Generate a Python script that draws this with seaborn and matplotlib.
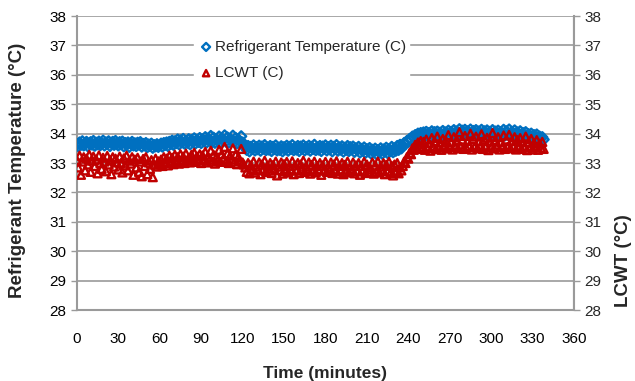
import numpy as np
import pandas as pd
import seaborn as sb
import matplotlib
matplotlib.use("Agg")
import matplotlib.pyplot as plt

# readings taken once a minute, 0..338 min
minutes = list(range(0, 339))

refrigerant_temp = [
    33.65, 33.58, 33.70, 33.62, 33.74, 33.60, 33.68, 33.72, 33.57, 33.66, 33.71, 33.63, 33.75, 33.59, 33.69,
    33.64, 33.73, 33.61, 33.67, 33.76, 33.60, 33.70, 33.65, 33.74, 33.58, 33.68, 33.72, 33.62, 33.75, 33.66,
    33.60, 33.71, 33.64, 33.73, 33.57, 33.68, 33.62, 33.70, 33.55, 33.66, 33.72, 33.60, 33.67, 33.58, 33.69,
    33.63, 33.71, 33.56, 33.65, 33.60, 33.68, 33.54, 33.63, 33.58, 33.66, 33.52, 33.61, 33.57, 33.64, 33.55,
    33.60, 33.66, 33.56, 33.68, 33.62, 33.70, 33.58, 33.72, 33.65, 33.76, 33.62, 33.74, 33.68, 33.80, 33.64,
    33.77, 33.70, 33.82, 33.66, 33.75, 33.69, 33.81, 33.64, 33.78, 33.71, 33.84, 33.67, 33.79, 33.72, 33.85,
    33.68, 33.80, 33.74, 33.88, 33.70, 33.83, 33.76, 33.92, 33.72, 33.86, 33.69, 33.81, 33.75, 33.90, 33.71,
    33.84, 33.78, 33.94, 33.73, 33.87, 33.70, 33.82, 33.76, 33.93, 33.72, 33.85, 33.68, 33.80, 33.74, 33.91,
    33.70, 33.62,
    33.52, 33.45, 33.58, 33.40, 33.55, 33.48, 33.60, 33.43, 33.54, 33.47, 33.59, 33.42, 33.56, 33.49, 33.61,
    33.44, 33.53, 33.46, 33.58, 33.41, 33.55, 33.48, 33.60, 33.43, 33.52, 33.45, 33.57, 33.40, 33.54, 33.47,
    33.59, 33.42, 33.55, 33.48, 33.61, 33.44, 33.53, 33.46, 33.58, 33.41, 33.56, 33.49, 33.60, 33.43, 33.54,
    33.47, 33.59, 33.42, 33.55, 33.48, 33.62, 33.44, 33.53, 33.46, 33.58, 33.41, 33.56, 33.49, 33.60, 33.43,
    33.54, 33.47, 33.59, 33.40, 33.55, 33.48, 33.61, 33.42, 33.53, 33.46, 33.57, 33.39, 33.52, 33.45, 33.58,
    33.41, 33.54, 33.47, 33.56, 33.38, 33.50, 33.44, 33.55, 33.36, 33.48, 33.42, 33.53, 33.35, 33.47, 33.40,
    33.51, 33.33, 33.45, 33.38, 33.49, 33.30, 33.44, 33.36, 33.50, 33.32, 33.46, 33.39, 33.52, 33.34, 33.47,
    33.40, 33.55, 33.37, 33.50, 33.42, 33.58, 33.45, 33.62, 33.50,
    33.60, 33.68, 33.65, 33.75, 33.72, 33.82, 33.80, 33.90, 33.86, 33.95, 33.88, 34.00, 33.90, 34.02, 33.93,
    34.04, 33.92, 34.06, 33.94, 34.02, 33.90, 34.08, 33.95, 34.05, 33.91, 34.07, 33.96, 34.03, 33.93, 34.09,
    33.97, 34.04, 33.92, 34.10, 33.95, 34.06, 33.98, 34.12, 33.94, 34.07, 33.99, 34.15, 33.96, 34.10, 34.00,
    34.13, 33.97, 34.08, 34.01, 34.14, 33.95, 34.09, 34.02, 34.12, 33.96, 34.07, 34.00, 34.13, 33.94, 34.08,
    34.01, 34.11, 33.95, 34.06, 33.99, 34.12, 33.93, 34.07, 34.00, 34.10, 33.96, 34.05, 33.98, 34.13, 33.94,
    34.08, 33.97, 34.14, 33.92, 34.06, 33.99, 34.11, 33.90, 34.04, 33.96, 34.08, 33.88, 34.02, 33.94, 34.05,
    33.86, 33.98, 33.92, 34.00, 33.84, 33.95, 33.88, 33.97, 33.82, 33.90, 33.85, 33.88, 33.80,
]

lcwt = [
    33.10, 32.85, 33.25, 32.60, 33.05, 33.20, 32.75, 33.15, 32.95, 33.28, 32.70, 33.08, 33.22, 32.90, 33.12,
    32.65, 33.26, 33.00, 32.80, 33.18, 33.05, 32.72, 33.24, 32.95, 33.10, 32.62, 33.20, 32.88, 33.15, 33.02,
    32.78, 33.22, 33.00, 32.68, 33.16, 32.92, 33.25, 32.75, 33.08, 32.98, 33.20, 32.60, 33.12, 32.85, 33.18,
    32.70, 33.05, 32.55, 33.14, 32.90, 33.20, 32.62, 33.02, 32.80, 33.10, 32.52, 32.95, 33.15, 32.88, 33.06,
    32.95, 33.12, 32.90, 33.20, 33.00, 33.15, 32.92, 33.25, 33.05, 33.18, 32.96, 33.28, 33.02, 33.20, 32.98,
    33.30, 33.06, 33.22, 33.00, 33.32, 33.08, 33.18, 33.02, 33.28, 33.10, 33.35, 33.04, 33.22, 33.12, 33.30,
    33.00, 33.26, 33.08, 33.38, 33.02, 33.22, 33.12, 33.42, 33.05, 33.28, 32.98, 33.20, 33.10, 33.45, 33.04,
    33.30, 33.14, 33.55, 33.06, 33.32, 33.00, 33.25, 33.12, 33.50, 33.05, 33.28, 32.96, 33.20, 33.08, 33.48,
    33.02, 32.95,
    32.85, 32.70, 33.00, 32.65, 32.92, 32.78, 33.05, 32.68, 32.88, 32.75, 33.02, 32.62, 32.95, 32.80, 33.08,
    32.70, 32.90, 32.74, 33.00, 32.66, 32.93, 32.82, 33.05, 32.58, 32.88, 32.76, 33.02, 32.64, 32.96, 32.72,
    33.04, 32.68, 32.90, 32.78, 33.06, 32.62, 32.92, 32.74, 33.00, 32.66, 32.95, 32.80, 33.08, 32.70, 32.88,
    32.76, 33.02, 32.64, 32.94, 32.72, 33.05, 32.68, 32.90, 32.78, 33.00, 32.60, 32.92, 32.74, 33.04, 32.70,
    32.88, 32.76, 33.02, 32.66, 32.95, 32.72, 33.06, 32.64, 32.90, 32.78, 33.00, 32.62, 32.94, 32.70, 33.05,
    32.68, 32.88, 32.75, 33.02, 32.65, 32.92, 32.72, 33.00, 32.60, 32.90, 32.74, 33.04, 32.66, 32.95, 32.70,
    32.86, 32.78, 33.02, 32.64, 32.92, 32.70, 33.05, 32.68, 32.88, 32.76, 33.00, 32.62, 32.94, 32.72, 33.04,
    32.66, 32.90, 32.58, 32.95, 32.70, 33.00, 32.65, 32.85, 32.75,
    32.90, 33.05, 33.00, 33.20, 33.15, 33.35, 33.30, 33.50, 33.45, 33.62, 33.50, 33.70, 33.55, 33.75, 33.48,
    33.72, 33.45, 33.80, 33.50, 33.68, 33.42, 33.85, 33.55, 33.74, 33.48, 33.90, 33.52, 33.70, 33.45, 33.82,
    33.58, 33.76, 33.50, 33.95, 33.54, 33.72, 33.46, 33.88, 33.56, 33.78, 33.50, 34.05, 33.55, 33.80, 33.48,
    33.92, 33.52, 33.75, 33.58, 34.00, 33.46, 33.82, 33.55, 33.90, 33.50, 33.74, 33.56, 33.98, 33.48, 33.80,
    33.54, 33.86, 33.44, 33.76, 33.52, 34.02, 33.50, 33.78, 33.56, 33.88, 33.46, 33.72, 33.54, 33.94, 33.48,
    33.80, 33.55, 33.96, 33.50, 33.74, 33.58, 33.88, 33.46, 33.78, 33.52, 33.85, 33.48, 33.72, 33.56, 33.90,
    33.44, 33.70, 33.52, 33.82, 33.46, 33.68, 33.55, 33.78, 33.45, 33.66, 33.52, 33.72, 33.48,
]

y_ticks = list(range(28, 39))
x_ticks = list(range(0, 361, 30))

df = pd.DataFrame({'Time': minutes, 'Refrigerant': refrigerant_temp, 'LCWT': lcwt})

sb.set_style("white")
plt.rcParams['font.family'] = ['Liberation Sans', 'DejaVu Sans']

fig = plt.figure(figsize=(6.35, 3.81), dpi=100)
ax = fig.add_axes([0.121, 0.186, 0.783, 0.772])

grey = '#9a9a9a'
sb.scatterplot(x='Time', y='Refrigerant', data=df, ax=ax, marker='D', s=26,
               facecolor='none', edgecolor='#0070C0', linewidth=1.7,
               label='Refrigerant Temperature (C)', zorder=3)
sb.scatterplot(x='Time', y='LCWT', data=df, ax=ax, marker='^', s=32,
               facecolor='none', edgecolor='#C00000', linewidth=1.7,
               label='LCWT (C)', zorder=4)

ax.set_xlim(0, 360)
ax.set_ylim(28, 38)
ax.set_xticks(x_ticks)
ax.set_yticks(y_ticks)
ax.yaxis.grid(True, color=grey, linewidth=1.2)
ax.set_axisbelow(True)
for side in ['left', 'right', 'bottom']:
    ax.spines[side].set_color(grey)
    ax.spines[side].set_linewidth(1.5)
ax.spines['top'].set_visible(False)
ax.tick_params(axis='both', direction='out', length=4, color=grey, labelsize=11, labelcolor='black', width=1)
ax.tick_params(axis='x', length=4, pad=12)
ax.set_xlabel('Time (minutes)', fontsize=12.5, fontweight='bold', labelpad=14)
ax.set_ylabel('Refrigerant Temperature (°C)', fontsize=13.5, fontweight='bold')
ax.yaxis.set_label_coords(-0.103, 0.476)

ax2 = ax.twinx()
ax2.set_ylim(28, 38)
ax2.set_yticks(y_ticks)
for side in ['left', 'right', 'bottom', 'top']:
    ax2.spines[side].set_visible(False)
ax2.tick_params(axis='y', direction='out', length=4, color=grey, labelsize=11, width=1)
ax2.set_ylabel('LCWT (°C)', fontsize=13.5, fontweight='bold')
ax2.yaxis.set_label_coords(1.082, 0.17)
ax2.axvline(360, color=grey, linewidth=1.5)

leg = ax.legend(loc='upper left', bbox_to_anchor=(0.22, 0.955), frameon=True, fontsize=11,
                handletextpad=0.0, handlelength=1.2, borderpad=0.2, labelspacing=0.8, markerscale=0.8)
leg.get_frame().set_facecolor('white')
leg.get_frame().set_edgecolor('white')
leg.get_frame().set_alpha(1)

fig.savefig('out.png', dpi=100)
